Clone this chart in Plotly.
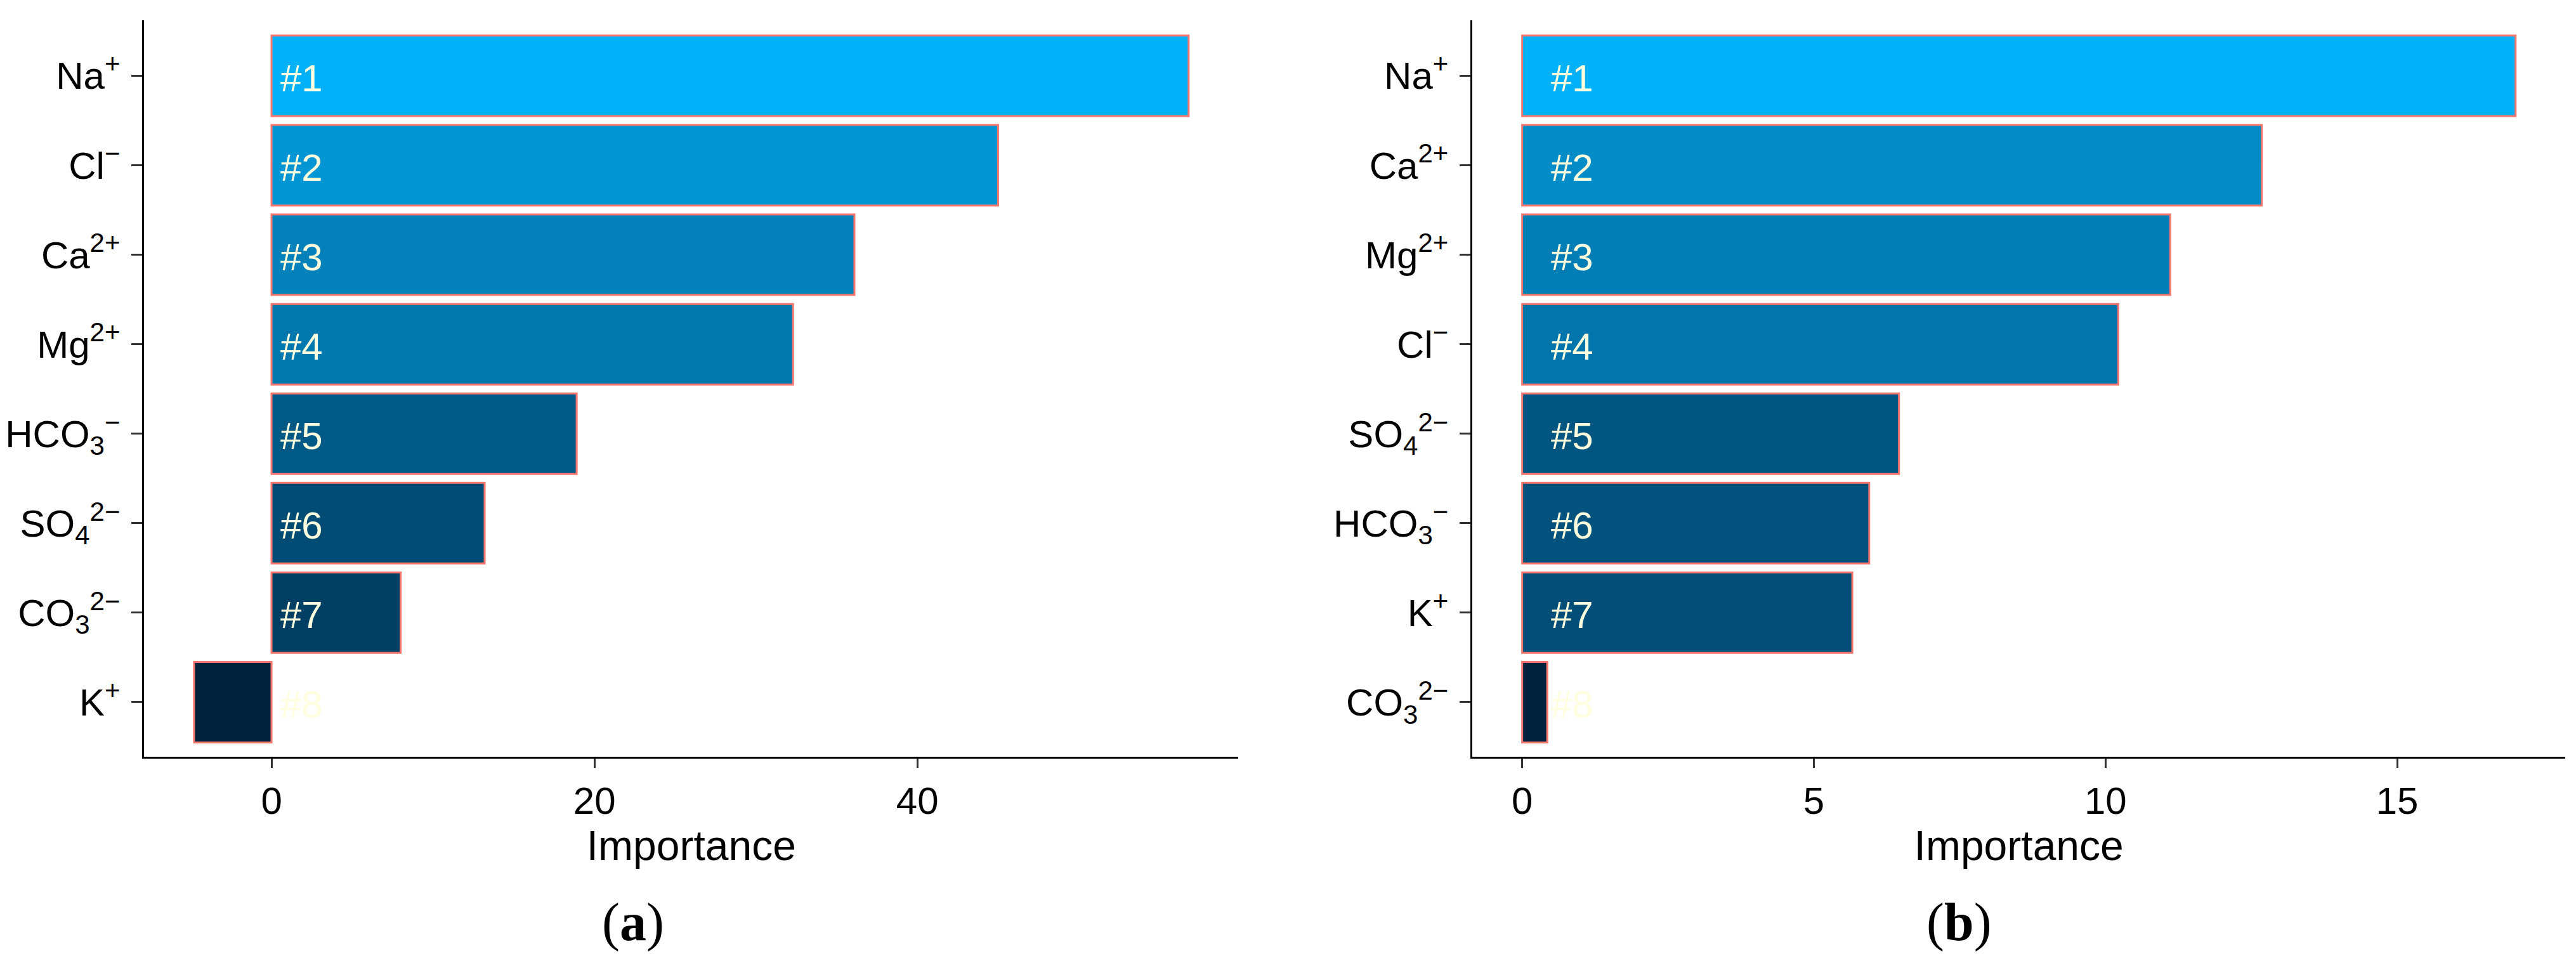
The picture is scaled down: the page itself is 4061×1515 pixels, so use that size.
import plotly.graph_objects as go

# ---- data ----
cats_a = ["Na", "Cl", "Ca", "Mg", "HCO3", "SO4", "CO3", "K"]
vals_a = [56.8, 45.0, 36.1, 32.3, 18.9, 13.2, 8.0, -4.8]
ticks_a = ["Na<sup>+</sup>", "Cl<sup>−</sup>", "Ca<sup>2+</sup>", "Mg<sup>2+</sup>",
           "HCO<sub>3</sub><sup>−</sup>", "SO<sub>4</sub><sup>2−</sup>",
           "CO<sub>3</sub><sup>2−</sup>", "K<sup>+</sup>"]

cats_b = ["Na", "Ca", "Mg", "Cl", "SO4", "HCO3", "K", "CO3"]
vals_b = [17.03, 12.68, 11.11, 10.22, 6.46, 5.95, 5.66, 0.43]
ticks_b = ["Na<sup>+</sup>", "Ca<sup>2+</sup>", "Mg<sup>2+</sup>", "Cl<sup>−</sup>",
           "SO<sub>4</sub><sup>2−</sup>", "HCO<sub>3</sub><sup>−</sup>",
           "K<sup>+</sup>", "CO<sub>3</sub><sup>2−</sup>"]

ranks = ["#1", "#2", "#3", "#4", "#5", "#6", "#7", "#8"]
panel_tags = ["a", "b"]
x_title = "Importance"

# ---- style ----
W, H = 4061, 1515
SANS = "Liberation Sans, Arial, sans-serif"
SERIF = "Liberation Serif, Times New Roman, serif"
COLORSCALE = [[0, "#00223D"], [1, "#03B1F9"]]
OUTLINE = "#F8766D"
LABEL_COLOR = "#FFFFE0"

dom_x = [(210 / W, 1939 / W), (2309 / W, 4036 / W)]
dom_y = (1 - 1185 / H, 1 - 24 / H)
label_shift = [12, 43]
dticks = [20, 5]

fig = go.Figure()

panels = [(cats_a, vals_a, ticks_a), (cats_b, vals_b, ticks_b)]
for i, (cats, vals, ticks) in enumerate(panels):
    xa = "x" if i == 0 else "x2"
    ya = "y" if i == 0 else "y2"
    fig.add_trace(go.Bar(
        x=vals, y=cats, orientation="h", width=0.9,
        marker=dict(color=vals, colorscale=COLORSCALE, cmin=min(vals), cmax=max(vals),
                    line=dict(color=OUTLINE, width=3)),
        xaxis=xa, yaxis=ya, showlegend=False, hoverinfo="skip",
    ))
    for c, r in zip(cats, ranks):
        fig.add_annotation(x=0, y=c, xref=xa, yref=ya, text=r, showarrow=False,
                           xanchor="left", yanchor="middle", xshift=label_shift[i], yshift=-4,
                           font=dict(family=SANS, size=60, color=LABEL_COLOR))
    lo = min(0, min(vals))
    hi = max(vals)
    pad = 0.05 * (hi - lo)
    n = len(cats)
    xkey = "xaxis" if i == 0 else "xaxis2"
    ykey = "yaxis" if i == 0 else "yaxis2"
    fig.update_layout(**{
        xkey: dict(domain=list(dom_x[i]), anchor=ya, range=[lo - pad, hi + pad],
                   dtick=dticks[i], tick0=0, showgrid=False, zeroline=False,
                   showline=True, linecolor="black", linewidth=3,
                   ticks="outside", ticklen=15, tickwidth=2.5, tickcolor="#333333",
                   tickfont=dict(family=SANS, size=60, color="black"),
                   ticklabelstandoff=0,
                   title=dict(text=x_title, standoff=0,
                              font=dict(family=SANS, size=66, color="black"))),
        ykey: dict(domain=list(dom_y), anchor=xa, type="category",
                   categoryorder="array", categoryarray=cats,
                   range=[n - 1 + 0.61, -0.62],
                   tickmode="array", tickvals=cats, ticktext=ticks,
                   showgrid=False, zeroline=False,
                   showline=True, linecolor="black", linewidth=3,
                   ticks="outside", ticklen=17, tickwidth=2.5, tickcolor="#333333",
                   tickfont=dict(family=SANS, size=60, color="black"),
                   ticklabelstandoff=6),
    })

tag_x = [982 / W, 3078 / W]
for tx, tag in zip(tag_x, panel_tags):
    fig.add_annotation(x=tx, y=1 - 1446 / H, xref="paper", yref="paper",
                       text="(<b>" + tag + "</b>)", showarrow=False,
                       xanchor="center", yanchor="middle",
                       font=dict(family=SERIF, size=84, color="black"))

fig.update_layout(width=W, height=H, autosize=False,
                  margin=dict(l=0, r=0, t=0, b=0),
                  paper_bgcolor="white", plot_bgcolor="white",
                  bargap=0.1)

fig.write_html("out.html", config={"displayModeBar": False})
